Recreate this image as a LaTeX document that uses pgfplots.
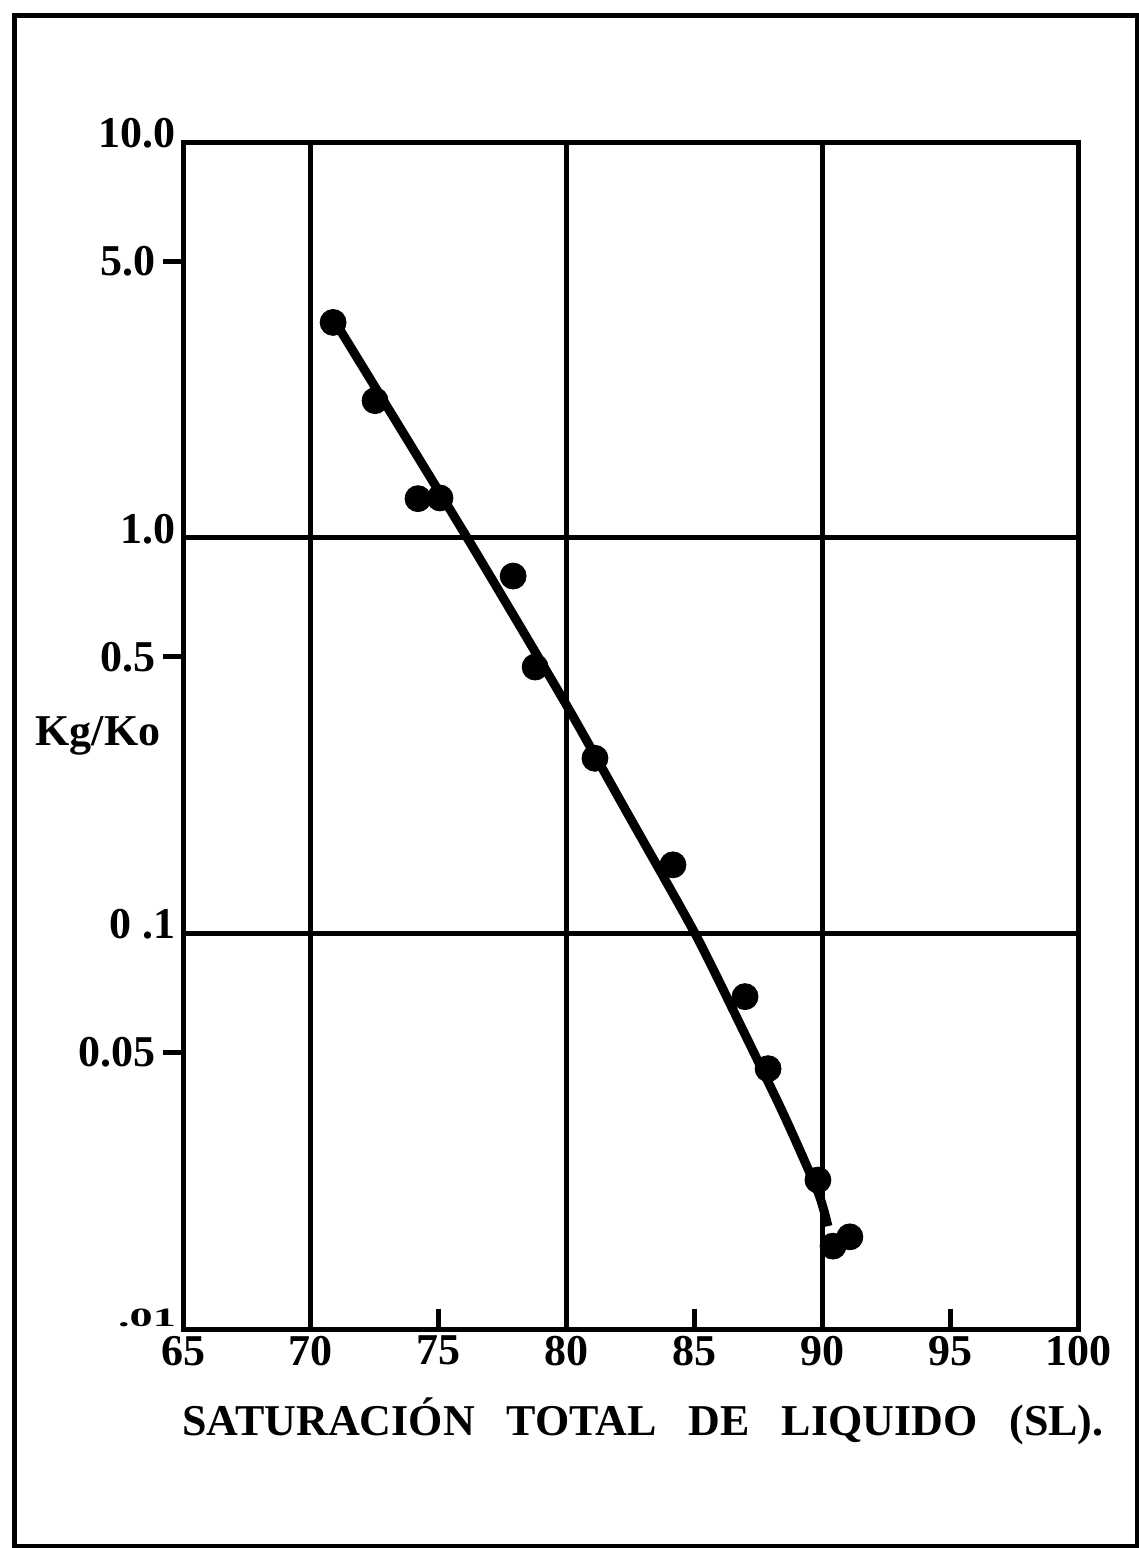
\documentclass[border=0pt]{standalone}
\usepackage{fontspec}
\setmainfont{Liberation Serif}
\usepackage{graphicx}
\usepackage{pgfplots}
\pgfplotsset{compat=1.18}
\pgfplotstableread{
x y
70.87 3.58
76.11 1.0
79.94 0.383
82.29 0.206
85.02 0.1
86.78 0.0590
88.46 0.0352
89.83 0.0222
90.22 0.0182
}\fitline
\pgfplotstableread{
x y
70.87 3.50
72.51 2.22
74.19 1.255
75.05 1.26
77.91 0.80
78.77 0.471
81.11 0.277
84.16 0.149
86.98 0.0692
87.88 0.0455
89.83 0.0238
90.42 0.0162
91.08 0.0171
}\points
\begin{document}
\begin{tikzpicture}
\useasboundingbox (0,0) rectangle (569.5pt,-774pt);
\draw[line width=2.5pt] (7pt,-7.5pt) rectangle (568.5pt,-773pt);
\begin{axis}[
  at={(91.5pt,-664.5pt)}, anchor=south west,
  scale only axis, width=447.5pt, height=593.5pt,
  xmin=65, xmax=100, ymin=0.01, ymax=10, ymode=log,
  axis line style={line width=2.5pt},
  every tick/.style={black, line width=2.5pt},
  major tick length=10pt,
  tick align=outside,
  xtick pos=bottom, ytick pos=left,
  /pgf/number format/assume math mode=true,
  tick label style={font=\fontsize{22pt}{22pt}\selectfont\bfseries},
  xtick={75,85,95}, xticklabels={75,85,95},
  x tick style={yshift=10pt},
  xticklabel style={yshift=10pt},
  ytick={5,0.5,0.05}, yticklabels={5.0,0.5,0.05},
  minor ytick={},
  extra x ticks={65,70,80,90,100},
  extra x tick labels={65,70,80,90,100},
  extra y ticks={10,1,0.1,0.01},
  extra y tick labels={10.0,1.0,0\ .1,{\raisebox{2pt}{\scalebox{1.05}[0.6]{.01}}}},
  extra x tick style={grid=major, major tick length=0pt, xticklabel style={yshift=-10pt}},
  extra y tick style={grid=major, major tick length=0pt, yticklabel style={yshift=4.5pt}},
  major grid style={black, line width=2.5pt},
  every axis x label/.style={at={(axis description cs:0.514,0)}, anchor=base, yshift=-53pt, font=\fontsize{22pt}{22pt}\selectfont\bfseries},
  every axis y label/.style={at={(axis description cs:-0.095,0.5)}, anchor=center, font=\fontsize{22pt}{22pt}\selectfont\bfseries},
  xlabel={SATURACIÓN\hspace{16pt}TOTAL\hspace{16pt}DE\hspace{16pt}LIQUIDO\hspace{16pt}(SL).},
  ylabel={Kg/Ko},
]
\addplot[black, line width=4.5pt, no marks, smooth, tension=0.4] table[x=x,y=y] {\fitline};
\addplot[black, only marks, mark=*, mark size=6.5pt] table[x=x,y=y] {\points};
\end{axis}
\end{tikzpicture}
\end{document}
